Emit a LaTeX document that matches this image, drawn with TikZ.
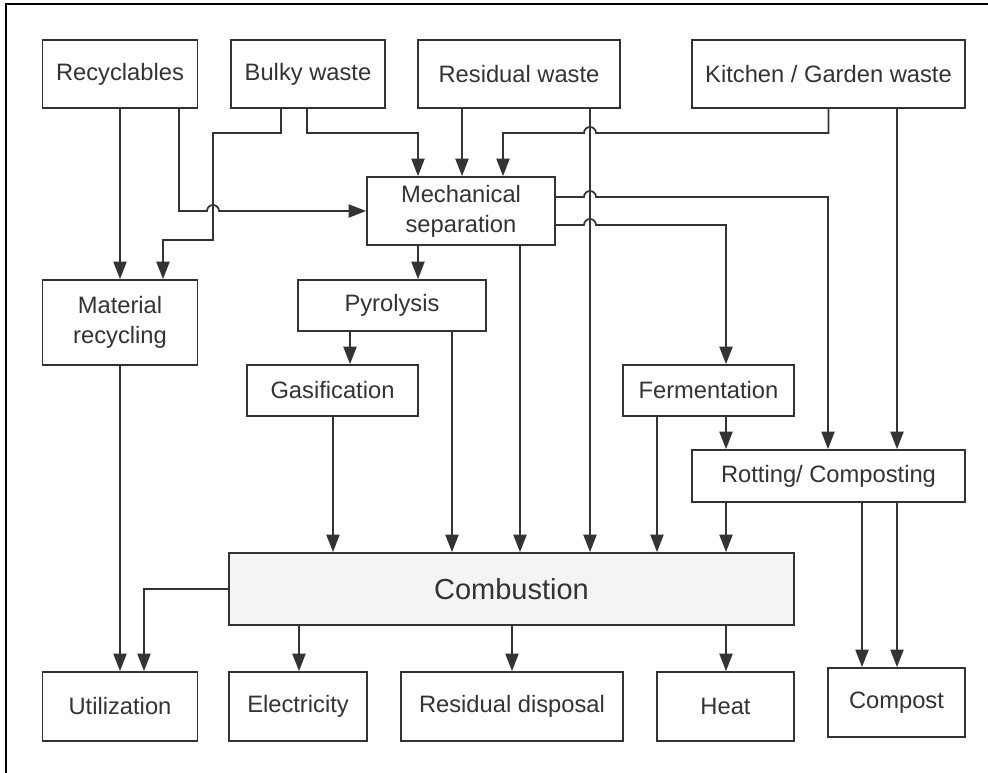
\documentclass[tikz,border=0pt]{standalone}
\usepackage{fontspec}
\setmainfont{Liberation Sans}
\usetikzlibrary{arrows.meta}
\definecolor{linegray}{HTML}{333333}
\definecolor{combfill}{HTML}{F4F4F4}

\begin{document}
\begin{tikzpicture}[x=0.02cm,y=-0.02cm,
  box/.style n args={2}{draw=linegray,line width=1pt,fill=white,text=linegray,
    minimum width=#1*0.02cm,minimum height=#2*0.02cm,inner sep=0pt,align=center,
    font=\fontsize{13.5}{17}\selectfont},
  arr/.style={-{Triangle[length=10pt,width=7.5pt]},line width=1pt,draw=linegray},
  ln/.style={line width=1pt,draw=linegray}]

\useasboundingbox (0,0) rectangle (988,773);

% frame
\draw[line width=1.7pt] (6,773) -- (6,4) -- (988,4);

% sources
\node[box={155}{68}] (rec)     at (120,74)   {Recyclables};
\node[box={154}{68}] (bulky)   at (308,74)   {Bulky waste};
\node[box={202}{68}] (resid)   at (519,74)   {Residual waste};
\node[box={273}{68}] (kitchen) at (828.5,74) {Kitchen / Garden waste};

% treatment
\node[box={188}{68}] (mech)   at (461,211)   {Mechanical\\separation};
\node[box={155}{85}] (matrec) at (120,322.5) {Material\\recycling};
\node[box={188}{51}] (pyro)   at (392,305.5) {Pyrolysis};
\node[box={171}{51}] (gasif)  at (332.5,390.5) {Gasification};
\node[box={171}{51}] (ferm)   at (708.5,390.5) {Fermentation};
\node[box={273}{52}] (rot)    at (828.5,476) {Rotting/ Composting};
\node[box={565}{72},fill=combfill,font=\fontsize{16.5}{20}\selectfont]
  (comb) at (511.5,589) {Combustion};

% products
\node[box={155}{69}] (util)    at (120,706.5)   {Utilization};
\node[box={138}{69}] (elec)    at (298,706.5)   {Electricity};
\node[box={222}{69}] (disp)    at (512,706.5)   {Residual disposal};
\node[box={137}{69}] (heat)    at (725.5,706.5) {Heat};
\node[box={137}{69}] (compost) at (896.5,702.5) {Compost};

% from the sources
\draw[arr] (rec.south) -- (matrec.north);
\draw[arr] (rec.south -| 179,0) -- (179,211) -- (207,211)
  arc[start angle=180,end angle=0,radius=0.12cm] -- (mech.west);
\draw[arr] (bulky.south -| 281,0) -- (281,133) -- (213,133) -- (213,240)
  -| (matrec.north -| 163,0);
\draw[arr] (bulky.south -| 307,0) -- (307,133) -| (mech.north -| 418,0);
\draw[arr] (resid.south -| 462,0) -- (mech.north -| 462,0);
\draw[arr] (resid.south -| 590,0) -- (comb.north -| 590,0);
\draw[arr] (kitchen.south) -- (828.5,133) -- (596,133)
  arc[start angle=0,end angle=180,radius=0.12cm] -| (mech.north -| 503,0);
\draw[arr] (kitchen.south -| 897,0) -- (rot.north -| 897,0);

% from mechanical separation
\draw[arr] (mech.south -| 418,0) -- (pyro.north -| 418,0);
\draw[arr] (mech.south -| 520,0) -- (comb.north -| 520,0);
\draw[arr] (mech.east |- 0,197) -- (584,197)
  arc[start angle=180,end angle=0,radius=0.12cm] -| (rot.north -| 828,0);
\draw[arr] (mech.east |- 0,225) -- (584,225)
  arc[start angle=180,end angle=0,radius=0.12cm] -| (ferm.north -| 726,0);

% thermal and biological paths
\draw[arr] (pyro.south -| 350,0) -- (gasif.north -| 350,0);
\draw[arr] (pyro.south -| 452,0) -- (comb.north -| 452,0);
\draw[arr] (gasif.south -| 333,0) -- (comb.north -| 333,0);
\draw[arr] (ferm.south -| 657,0) -- (comb.north -| 657,0);
\draw[arr] (ferm.south -| 726,0) -- (rot.north -| 726,0);
\draw[arr] (rot.south -| 726,0) -- (comb.north -| 726,0);
\draw[arr] (rot.south -| 862,0) -- (compost.north -| 862,0);
\draw[arr] (rot.south -| 897,0) -- (compost.north -| 897,0);

% to the products
\draw[arr] (matrec.south) -- (util.north);
\draw[arr] (comb.west) -| (util.north -| 144,0);
\draw[arr] (comb.south -| 299,0) -- (elec.north -| 299,0);
\draw[arr] (comb.south -| 512,0) -- (disp.north -| 512,0);
\draw[arr] (comb.south -| 726,0) -- (heat.north -| 726,0);

\end{tikzpicture}
\end{document}
